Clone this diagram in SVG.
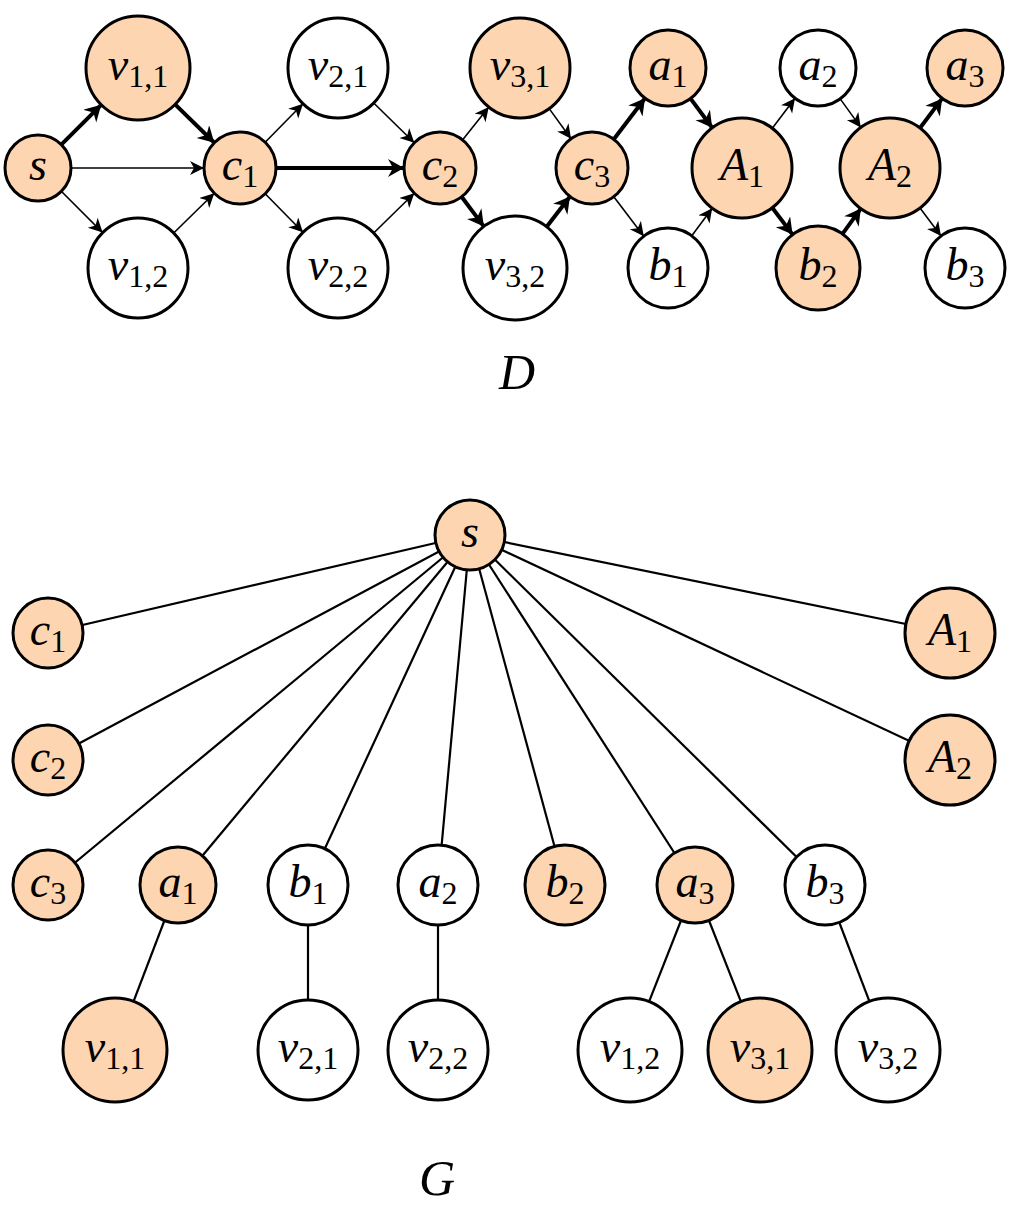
<svg xmlns="http://www.w3.org/2000/svg" width="1024" height="1211" viewBox="0 0 1024 1211">
<style>
.o{fill:#fdd5b1;stroke:#000;stroke-width:3}
.w{fill:#fff;stroke:#000;stroke-width:3}
.t{stroke:#000;stroke-width:1.6;fill:none}
.k{stroke:#000;stroke-width:4;fill:none}
.e{stroke:#000;stroke-width:2.2}
text{font-family:"Liberation Serif",serif;font-style:italic;font-size:46px;text-anchor:middle;dominant-baseline:central}
.s{font-style:normal;font-size:32px}
</style>
<defs>
<marker id="a" markerUnits="userSpaceOnUse" markerWidth="20" markerHeight="20" refX="14" refY="7" orient="auto"><path d="M0,0 L14,7 L0,14 L4,7 Z" fill="#000"/></marker>
<marker id="b" markerUnits="userSpaceOnUse" markerWidth="24" markerHeight="24" refX="16" refY="9" orient="auto"><path d="M0,0 L16,9 L0,18 L5,9 Z" fill="#000"/></marker>
</defs>
<g id="connectors">
<line class="k" x1="61.3" y1="144.7" x2="101.2" y2="104.8" marker-end="url(#b)"/>
<line class="t" x1="71" y1="168" x2="204" y2="168" marker-end="url(#a)"/>
<line class="t" x1="61.3" y1="191.3" x2="102.6" y2="232.6" marker-end="url(#a)"/>
<line class="k" x1="175.1" y1="104.4" x2="214.3" y2="142.8" marker-end="url(#b)"/>
<line class="t" x1="173.7" y1="233" x2="214.3" y2="193.2" marker-end="url(#a)"/>
<line class="t" x1="265.2" y1="142.3" x2="303" y2="103.7" marker-end="url(#a)"/>
<line class="k" x1="276" y1="168" x2="404" y2="168" marker-end="url(#b)"/>
<line class="t" x1="265.2" y1="193.7" x2="303" y2="232.3" marker-end="url(#a)"/>
<line class="t" x1="373.7" y1="103" x2="414.3" y2="142.8" marker-end="url(#a)"/>
<line class="t" x1="373.7" y1="233" x2="414.3" y2="193.2" marker-end="url(#a)"/>
<line class="t" x1="462.5" y1="139.9" x2="488.8" y2="107" marker-end="url(#a)"/>
<line class="k" x1="461.6" y1="196.8" x2="483.8" y2="226.4" marker-end="url(#b)"/>
<line class="t" x1="549.2" y1="108.6" x2="571" y2="138.8" marker-end="url(#a)"/>
<line class="k" x1="546.7" y1="226.8" x2="570" y2="196.5" marker-end="url(#b)"/>
<line class="k" x1="613.8" y1="139.3" x2="645" y2="98.2" marker-end="url(#b)"/>
<line class="t" x1="613.8" y1="196.7" x2="643.8" y2="236.2" marker-end="url(#a)"/>
<line class="k" x1="690.6" y1="98.6" x2="712.2" y2="127.8" marker-end="url(#b)"/>
<line class="t" x1="691.8" y1="235.8" x2="712.2" y2="208.2" marker-end="url(#a)"/>
<line class="t" x1="772.3" y1="128.2" x2="795" y2="98.2" marker-end="url(#a)"/>
<line class="k" x1="772.3" y1="207.8" x2="792.6" y2="234.6" marker-end="url(#b)"/>
<line class="t" x1="840.2" y1="98.9" x2="860.8" y2="127.4" marker-end="url(#a)"/>
<line class="k" x1="842.5" y1="233.9" x2="860.8" y2="208.6" marker-end="url(#b)"/>
<line class="k" x1="920" y1="128" x2="942.2" y2="98.4" marker-end="url(#b)"/>
<line class="t" x1="920" y1="208" x2="941" y2="236" marker-end="url(#a)"/>
<g class="e">
<line x1="470" y1="535" x2="48" y2="633"/>
<line x1="470" y1="535" x2="48" y2="760"/>
<line x1="470" y1="535" x2="48" y2="885"/>
<line x1="470" y1="535" x2="178" y2="885"/>
<line x1="470" y1="535" x2="308" y2="885"/>
<line x1="470" y1="535" x2="438" y2="885"/>
<line x1="470" y1="535" x2="565" y2="885"/>
<line x1="470" y1="535" x2="695" y2="885"/>
<line x1="470" y1="535" x2="825" y2="885"/>
<line x1="470" y1="535" x2="950" y2="633"/>
<line x1="470" y1="535" x2="950" y2="760"/>
<line x1="178" y1="885" x2="115" y2="1050"/>
<line x1="308" y1="885" x2="308" y2="1050"/>
<line x1="438" y1="885" x2="438" y2="1050"/>
<line x1="695" y1="885" x2="630" y2="1050"/>
<line x1="695" y1="885" x2="760" y2="1050"/>
<line x1="825" y1="885" x2="888" y2="1050"/>
</g>
</g>
<g id="D-s"><circle class="o" cx="38" cy="168" r="33"/><text x="38" y="164">s</text></g>
<g id="D-v11"><circle class="o" cx="138" cy="68" r="52"/><text x="138" y="64">v<tspan class="s" dy="12">1,1</tspan></text></g>
<g id="D-v12"><circle class="w" cx="138" cy="268" r="50"/><text x="138" y="264">v<tspan class="s" dy="12">1,2</tspan></text></g>
<g id="D-c1"><circle class="o" cx="240" cy="168" r="36"/><text x="240" y="164">c<tspan class="s" dy="12">1</tspan></text></g>
<g id="D-v21"><circle class="w" cx="338" cy="68" r="50"/><text x="338" y="64">v<tspan class="s" dy="12">2,1</tspan></text></g>
<g id="D-v22"><circle class="w" cx="338" cy="268" r="50"/><text x="338" y="264">v<tspan class="s" dy="12">2,2</tspan></text></g>
<g id="D-c2"><circle class="o" cx="440" cy="168" r="36"/><text x="440" y="164">c<tspan class="s" dy="12">2</tspan></text></g>
<g id="D-v31"><circle class="o" cx="520" cy="68" r="50"/><text x="520" y="64">v<tspan class="s" dy="12">3,1</tspan></text></g>
<g id="D-v32"><circle class="w" cx="515" cy="268" r="52"/><text x="515" y="264">v<tspan class="s" dy="12">3,2</tspan></text></g>
<g id="D-c3"><circle class="o" cx="592" cy="168" r="36"/><text x="592" y="164">c<tspan class="s" dy="12">3</tspan></text></g>
<g id="D-a1"><circle class="o" cx="668" cy="68" r="38"/><text x="668" y="64">a<tspan class="s" dy="12">1</tspan></text></g>
<g id="D-b1"><circle class="w" cx="668" cy="268" r="40"/><text x="668" y="264">b<tspan class="s" dy="12">1</tspan></text></g>
<g id="D-A1"><circle class="o" cx="742" cy="168" r="50"/><text x="742" y="164">A<tspan class="s" dy="12">1</tspan></text></g>
<g id="D-a2"><circle class="w" cx="818" cy="68" r="38"/><text x="818" y="64">a<tspan class="s" dy="12">2</tspan></text></g>
<g id="D-b2"><circle class="o" cx="818" cy="268" r="42"/><text x="818" y="264">b<tspan class="s" dy="12">2</tspan></text></g>
<g id="D-A2"><circle class="o" cx="890" cy="168" r="50"/><text x="890" y="164">A<tspan class="s" dy="12">2</tspan></text></g>
<g id="D-a3"><circle class="o" cx="965" cy="68" r="38"/><text x="965" y="64">a<tspan class="s" dy="12">3</tspan></text></g>
<g id="D-b3"><circle class="w" cx="965" cy="268" r="40"/><text x="965" y="264">b<tspan class="s" dy="12">3</tspan></text></g>
<text x="517" y="372" style="font-size:50px">D</text>
<g id="G-s"><circle class="o" cx="470" cy="535" r="35"/><text x="470" y="531">s</text></g>
<g id="G-c1"><circle class="o" cx="48" cy="633" r="35"/><text x="48" y="629">c<tspan class="s" dy="12">1</tspan></text></g>
<g id="G-c2"><circle class="o" cx="48" cy="760" r="35"/><text x="48" y="756">c<tspan class="s" dy="12">2</tspan></text></g>
<g id="G-c3"><circle class="o" cx="48" cy="885" r="35"/><text x="48" y="881">c<tspan class="s" dy="12">3</tspan></text></g>
<g id="G-a1"><circle class="o" cx="178" cy="885" r="38"/><text x="178" y="881">a<tspan class="s" dy="12">1</tspan></text></g>
<g id="G-b1"><circle class="w" cx="308" cy="885" r="40"/><text x="308" y="881">b<tspan class="s" dy="12">1</tspan></text></g>
<g id="G-a2"><circle class="w" cx="438" cy="885" r="40"/><text x="438" y="881">a<tspan class="s" dy="12">2</tspan></text></g>
<g id="G-b2"><circle class="o" cx="565" cy="885" r="40"/><text x="565" y="881">b<tspan class="s" dy="12">2</tspan></text></g>
<g id="G-a3"><circle class="o" cx="695" cy="885" r="38"/><text x="695" y="881">a<tspan class="s" dy="12">3</tspan></text></g>
<g id="G-b3"><circle class="w" cx="825" cy="885" r="40"/><text x="825" y="881">b<tspan class="s" dy="12">3</tspan></text></g>
<g id="G-A1"><circle class="o" cx="950" cy="633" r="45"/><text x="950" y="629">A<tspan class="s" dy="12">1</tspan></text></g>
<g id="G-A2"><circle class="o" cx="950" cy="760" r="45"/><text x="950" y="756">A<tspan class="s" dy="12">2</tspan></text></g>
<g id="G-v11"><circle class="o" cx="115" cy="1050" r="52"/><text x="115" y="1046">v<tspan class="s" dy="12">1,1</tspan></text></g>
<g id="G-v21"><circle class="w" cx="308" cy="1050" r="50"/><text x="308" y="1046">v<tspan class="s" dy="12">2,1</tspan></text></g>
<g id="G-v22"><circle class="w" cx="438" cy="1050" r="50"/><text x="438" y="1046">v<tspan class="s" dy="12">2,2</tspan></text></g>
<g id="G-v12"><circle class="w" cx="630" cy="1050" r="52"/><text x="630" y="1046">v<tspan class="s" dy="12">1,2</tspan></text></g>
<g id="G-v31"><circle class="o" cx="760" cy="1050" r="52"/><text x="760" y="1046">v<tspan class="s" dy="12">3,1</tspan></text></g>
<g id="G-v32"><circle class="w" cx="888" cy="1050" r="52"/><text x="888" y="1046">v<tspan class="s" dy="12">3,2</tspan></text></g>
<text x="437" y="1178" style="font-size:50px">G</text>
</svg>
